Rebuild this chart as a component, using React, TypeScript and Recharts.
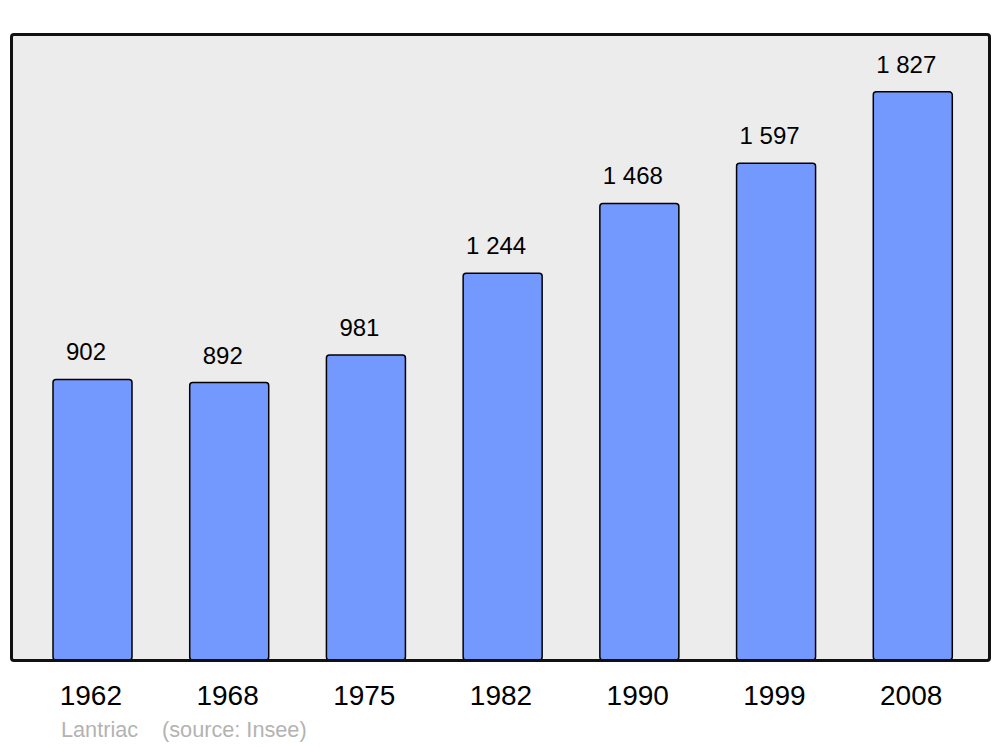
import React from "react";
import { BarChart, Bar, XAxis, YAxis, CartesianGrid, LabelList } from "recharts";

const years = ["1962", "1968", "1975", "1982", "1990", "1999", "2008"];
const population = [902, 892, 981, 1244, 1468, 1597, 1827];
const commune = "Lantriac";
const sourceNote = "(source: Insee)";
const Y_MAX = 2013;

const data = years.map((y, i) => ({ year: y, pop: population[i] }));

const fmt = (v: number) => String(v).replace(/\B(?=(\d{3})+(?!\d))/g, " ");

const FONT = "'Liberation Sans', Arial, sans-serif";

const ValueLabel = (props: any) => {
  const { x, y, width, value } = props;
  return (
    <text
      x={x + width / 2 - 6.5}
      y={y - 19}
      textAnchor="middle"
      fontSize={24}
      fontFamily={FONT}
      fill="#000"
    >
      {fmt(value)}
    </text>
  );
};

const noteStyle: React.CSSProperties = {
  position: "absolute",
  top: 718,
  fontFamily: FONT,
  fontSize: 21.7,
  color: "#b3b3b3",
  whiteSpace: "pre",
  lineHeight: "23px",
};

export default function App() {
  return (
    <div style={{ position: "absolute", left: 0, top: 0, width: 1000, height: 747, background: "#fff" }}>
      <BarChart
        width={1000}
        height={747}
        data={data}
        margin={{ top: 34, right: 11, bottom: 57, left: 11 }}
        barCategoryGap={0}
      >
        <CartesianGrid fill="#ececec" fillOpacity={1} horizontal={false} vertical={false} />
        <YAxis hide domain={[0, Y_MAX]} type="number" allowDataOverflow />
        <XAxis
          dataKey="year"
          axisLine={false}
          tickLine={false}
          tickSize={0}
          tickMargin={25}
          height={30}
          padding={{ left: 13, right: 8 }}
          interval={0}
          tick={{ fontSize: 28, fill: "#000", fontFamily: FONT, dx: -1.5 }}
        />
        <Bar
          dataKey="pop"
          fill="#7399ff"
          stroke="#000"
          strokeWidth={1.5}
          barSize={79}
          radius={3}
          isAnimationActive={false}
        >
          <LabelList dataKey="pop" content={ValueLabel} />
        </Bar>
      </BarChart>
      <div
        style={{
          position: "absolute",
          left: 9.5,
          top: 32.5,
          width: 981,
          height: 629,
          border: "3px solid #111",
          borderRadius: 4,
          boxSizing: "border-box",
          pointerEvents: "none",
        }}
      />
      <div style={{ ...noteStyle, left: 61 }}>{commune}</div>
      <div style={{ ...noteStyle, left: 162 }}>{sourceNote}</div>
    </div>
  );
}
